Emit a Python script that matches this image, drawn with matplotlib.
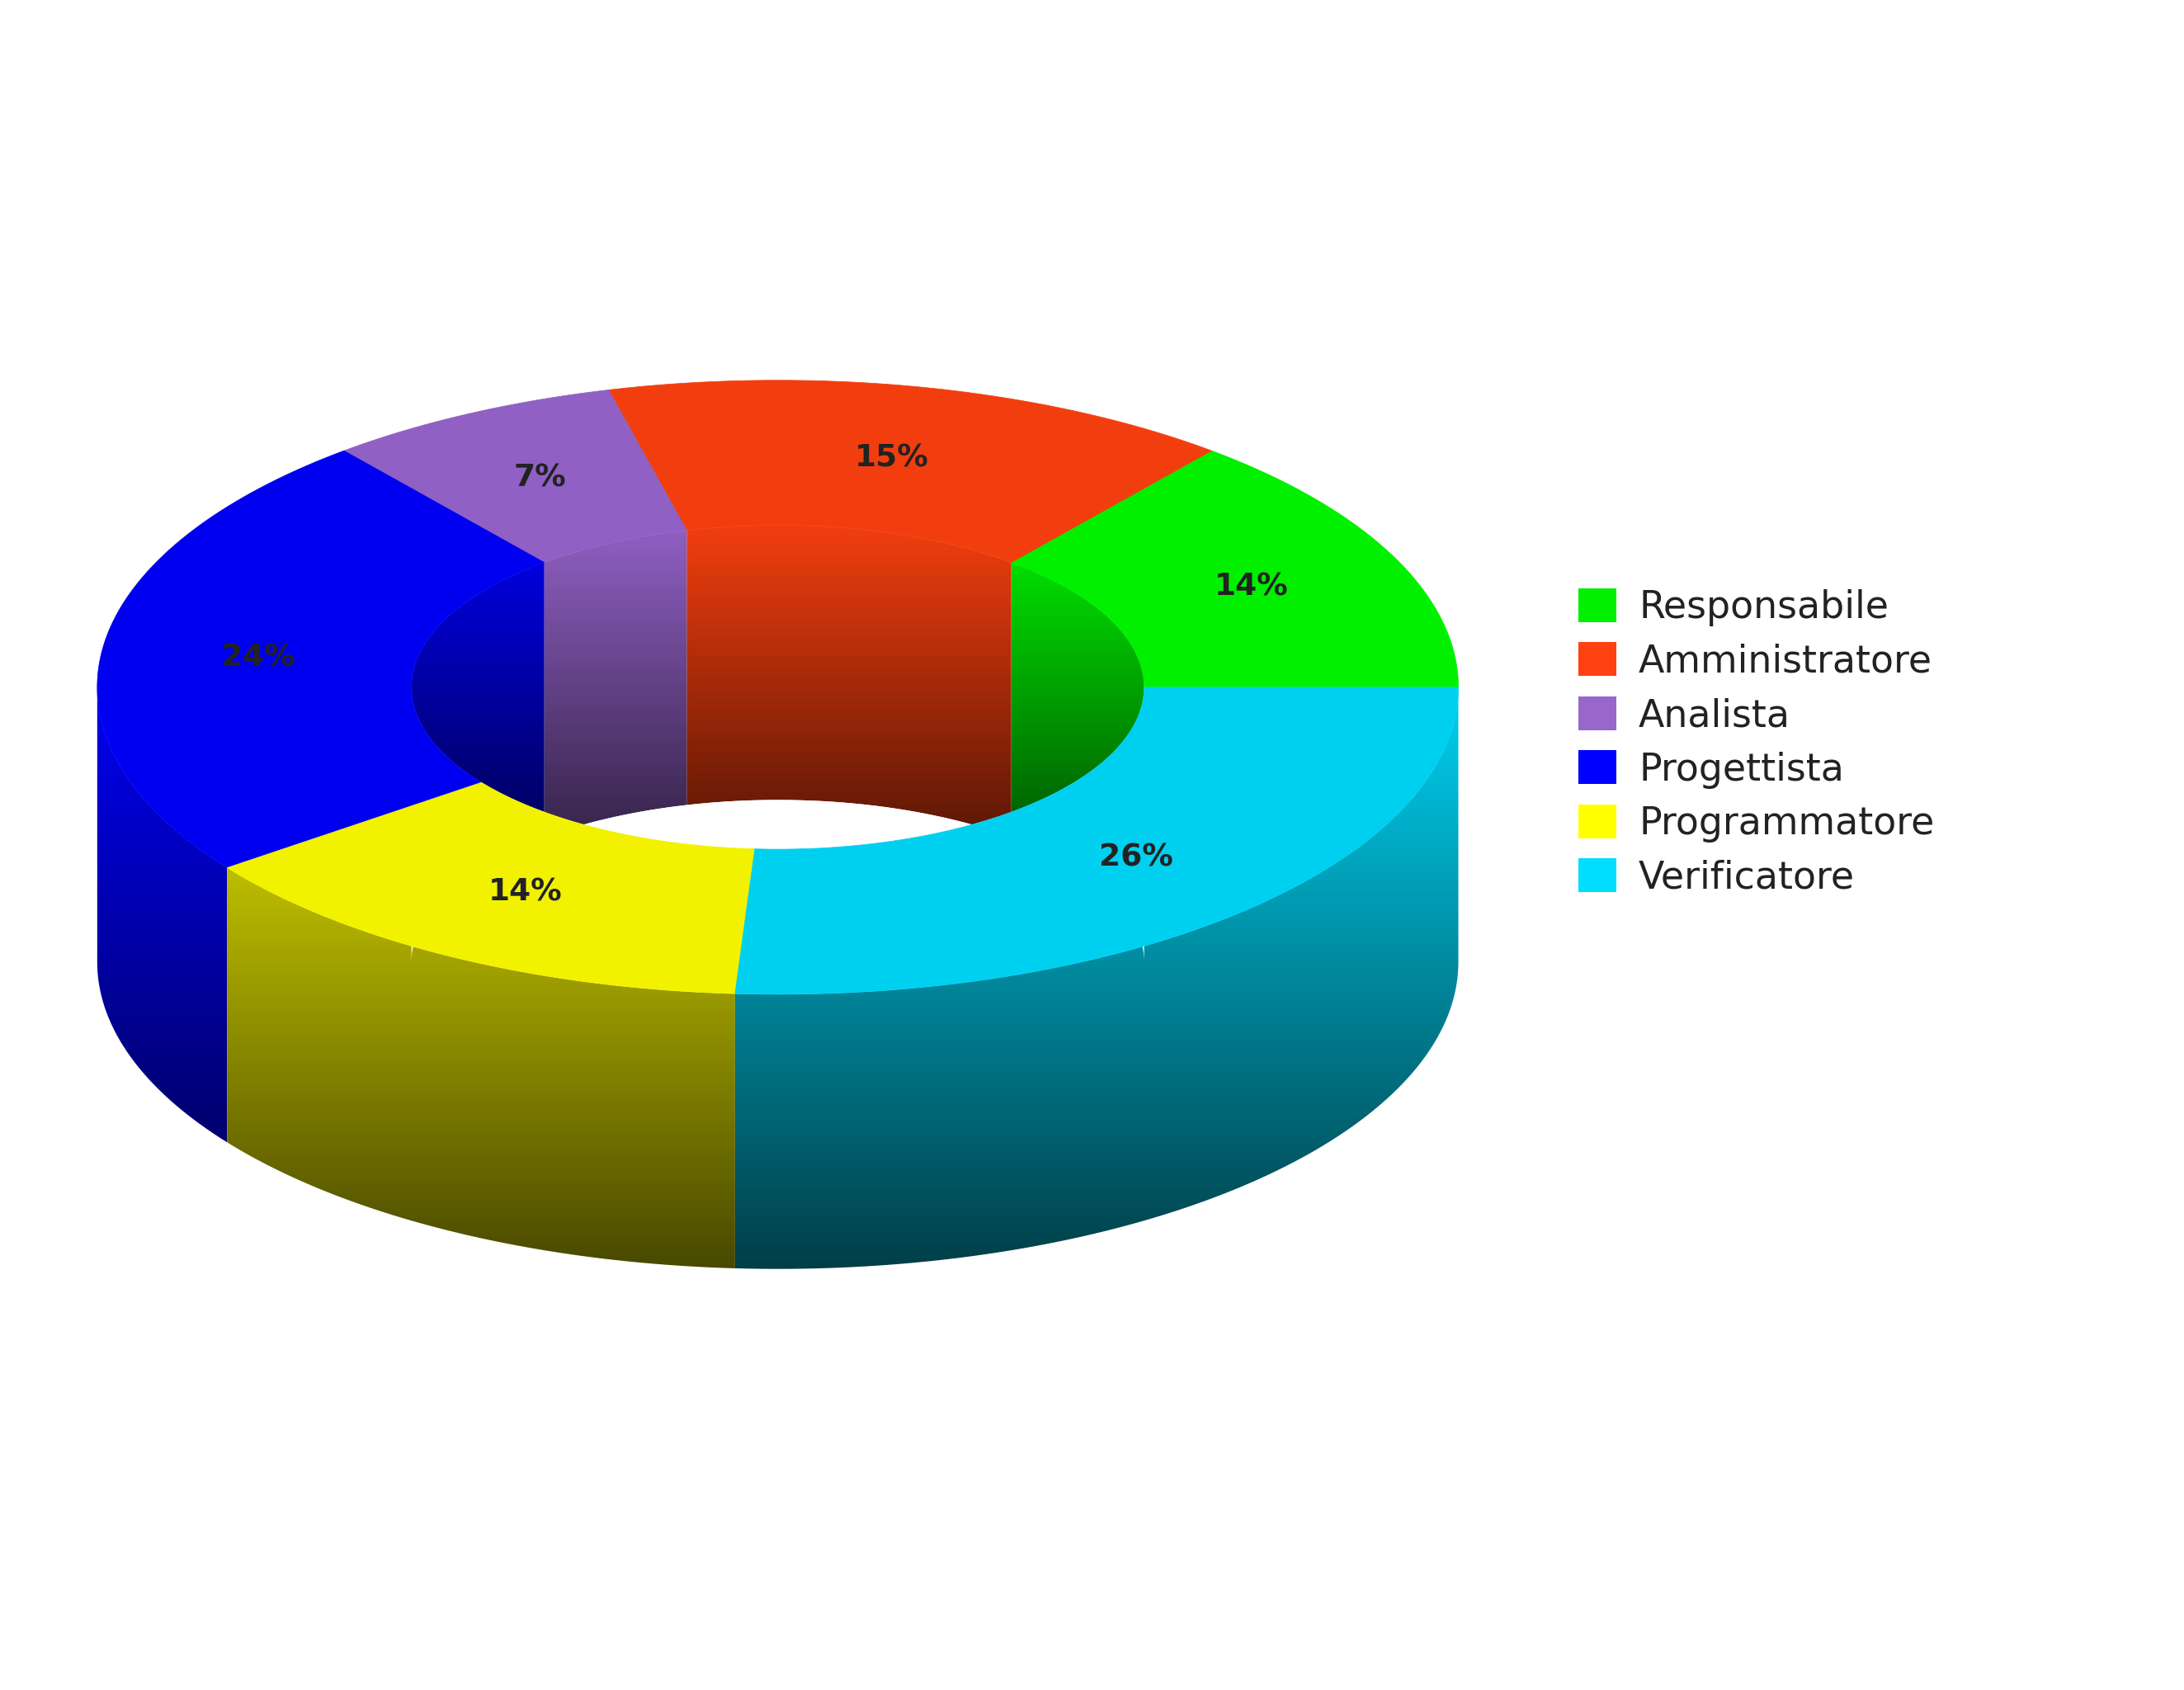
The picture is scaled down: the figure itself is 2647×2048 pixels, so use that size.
import numpy as np
import matplotlib
matplotlib.use("Agg")
import matplotlib.pyplot as plt
from matplotlib.patches import Polygon, Patch, Ellipse
from matplotlib.colors import to_rgb

labels = ["Responsabile", "Amministratore", "Analista", "Progettista", "Programmatore", "Verificatore"]
values = [14, 15, 7, 24, 14, 26]
colors = ["#00F000", "#F23E0E", "#9060C4", "#0000F0", "#F2F200", "#00D0F0"]
legend_colors = ["#00F000", "#FF4010", "#9966CC", "#0000FF", "#FFFF00", "#00DDFF"]

# geometry in a 1550x1200 reference frame
cx, cy = 552, 488
rx_out, ry_out = 483, 218
rx_in, ry_in = 260, 115
depth = 195

fig = plt.figure(figsize=(26.47, 20.48), dpi=100)
ax = fig.add_axes([0, 0, 1, 1])
ax.set_xlim(0, 1550)
ax.set_ylim(1200, 0)
ax.axis("off")


def arc(rx, ry, a0, a1, dy=0, n=120):
    t = np.radians(np.linspace(a0, a1, n))
    return np.column_stack([cx + rx * np.cos(t), cy - ry * np.sin(t) + dy])


def gradient_fill(poly, color, y0, y1, dark=0.35, z=1):
    c = np.array(to_rgb(color))
    g = np.linspace(1, dark, 256)[:, None, None] * c[None, None, :]
    ax.add_patch(poly)
    poly.set_visible(False)
    im = ax.imshow(g, extent=[0, 1550, y1, y0], aspect="auto", zorder=z)
    im.set_clip_path(poly)


cum = np.cumsum([0] + values) / sum(values) * 360
inner_clip = Ellipse((cx, cy), 2 * rx_in, 2 * ry_in, transform=ax.transData)

for i, col in enumerate(colors):
    a0, a1 = cum[i], cum[i + 1]
    # outer front wall
    s0, s1 = max(a0, 180), min(a1, 360)
    if s1 > s0:
        top = arc(rx_out, ry_out, s0, s1)
        bot = arc(rx_out, ry_out, s1, s0, dy=depth)
        gradient_fill(Polygon(np.vstack([top, bot]), closed=True), col,
                      cy, cy + ry_out + depth, dark=0.3, z=1)
    # inner back wall
    s0, s1 = max(a0, 0), min(a1, 180)
    if s1 > s0:
        top = arc(rx_in, ry_in, s0, s1)
        bot = arc(rx_in, ry_in, s1, s0, dy=depth)
        p = Polygon(np.vstack([top, bot]), closed=True)
        ax.add_patch(p)
        p.set_visible(False)
        c = np.array(to_rgb(col))
        g = np.linspace(1, 0.35, 256)[:, None, None] * c[None, None, :]
        im = ax.imshow(g, extent=[0, 1550, cy + ry_in, cy - ry_in], aspect="auto", zorder=2)
        ax.add_patch(inner_clip)
        inner_clip.set_visible(False)
        from matplotlib.path import Path
        from matplotlib.transforms import IdentityTransform
        path = Path.intersection if False else None
        im.set_clip_path(p)
        # mask outside the hole with white below inner ellipse front
        
    # top surface
    outer = arc(rx_out, ry_out, a0, a1)
    inner = arc(rx_in, ry_in, a1, a0)
    ax.add_patch(Polygon(np.vstack([outer, inner]), closed=True, facecolor=col,
                         edgecolor=col, lw=0.5, zorder=4))
    mid = np.radians((a0 + a1) / 2)
    mx = cx + (rx_out + rx_in) / 2 * np.cos(mid)
    my = cy - (ry_out + ry_in) / 2 * np.sin(mid)
    ax.text(mx, my, f"{values[i]}%", ha="center", va="center", fontsize=27,
            fontweight="bold", color="#222222", zorder=5)

# white region inside hole below the visible inner wall (front part of hole floor)
front = arc(rx_in, ry_in, 180, 360)
lower = arc(rx_in, ry_in, 360, 180, dy=depth)
hole_floor = np.vstack([arc(rx_in, ry_in, 0, 180, dy=depth), arc(rx_in, ry_in, 180, 360)])
p = Polygon(hole_floor, closed=True, facecolor="white", edgecolor="none", zorder=3)
ax.add_patch(p)

handles = [Patch(facecolor=c, edgecolor="none") for c in legend_colors]
ax.legend(handles, labels, loc="upper left", bbox_to_anchor=(0.707, 0.672),
          frameon=False, fontsize=33, handlelength=1.0, handleheight=1.0,
          handletextpad=0.6, labelspacing=0.42, labelcolor="#222222")

fig.savefig("out.png", dpi=100, facecolor="white")
